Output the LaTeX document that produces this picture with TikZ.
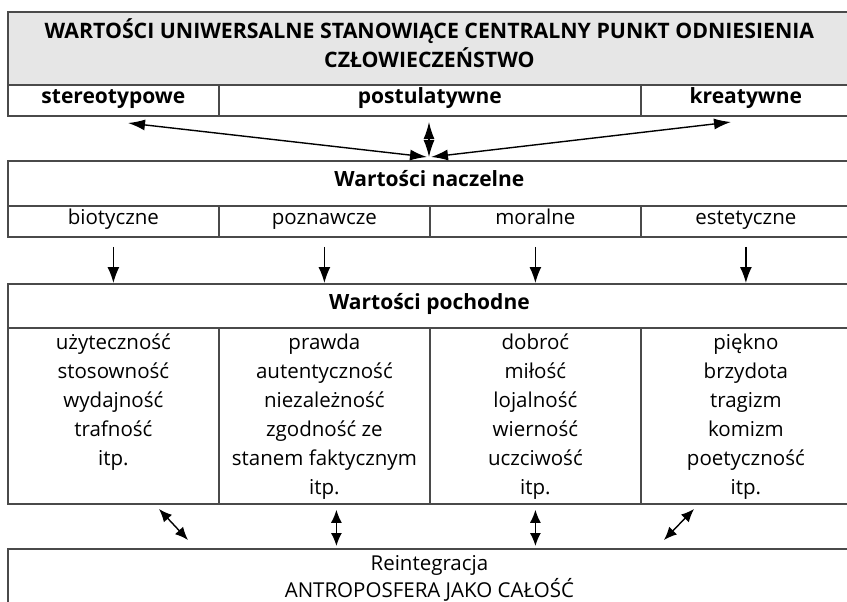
\documentclass[tikz,border=0pt]{standalone}
\usepackage{fontspec}
\setmainfont{Open Sans}
\usetikzlibrary{arrows.meta,calc}
\definecolor{rulegray}{HTML}{4A4A4A}
\definecolor{headfill}{HTML}{E6E6E6}
\begin{document}
\begin{tikzpicture}[x=1pt,y=-1pt,
  box/.style={draw=rulegray, line width=1.8pt, inner sep=0pt, anchor=north west},
  cell/.style={box, font=\fontsize{20.5}{29}\selectfont, text height=0.7em, text depth=0pt},
  boldcell/.style={cell, font=\bfseries\fontsize{21}{29}\selectfont},
  txt/.style={inner sep=0pt, align=center, font=\fontsize{20.5}{29}\selectfont},
  boldtxt/.style={txt, font=\bfseries\fontsize{21.3}{29}\selectfont},
  arr/.style={line width=1.4pt, -{Latex[length=16pt,width=12pt]}},
  darr/.style={line width=1.4pt, {Latex[length=17pt,width=11pt]}-{Latex[length=17pt,width=11pt]}},
  sdarr/.style={line width=1.4pt, {Latex[length=13pt,width=11pt]}-{Latex[length=13pt,width=11pt]}}]
\useasboundingbox (0,0) rectangle (847,602);

% universal values
\node[box, fill=headfill, minimum width=843, minimum height=73] (head) at (7,11) {};
\node[boldtxt, anchor=base] (headA) at (head.north |- 0,39)
  {WARTOŚCI UNIWERSALNE STANOWIĄCE CENTRALNY PUNKT ODNIESIENIA};
\node[boldtxt, anchor=base] (headB) at (head.north |- 0,68)
  {CZŁOWIECZEŃSTWO};
\node[boldcell, minimum width=211, minimum height=31] (stereo) at (7,84) {stereotypowe};
\node[boldcell, minimum width=422, minimum height=31] (postul) at (218,84) {postulatywne};
\node[boldcell, minimum width=210, minimum height=31] (kreat) at (640,84) {kreatywne};

% primary values
\node[boldcell, minimum width=843, minimum height=45] (nacz) at (7,160) {Wartości naczelne};
\node[cell, minimum width=211, minimum height=31] (bio) at (7,205) {biotyczne};
\node[cell, minimum width=211, minimum height=31] (pozn) at (218,205) {poznawcze};
\node[cell, minimum width=211, minimum height=31] (moral) at (429,205) {moralne};
\node[cell, minimum width=210, minimum height=31] (estet) at (640,205) {estetyczne};

% derived values
\node[boldcell, minimum width=843, minimum height=44] (poch) at (7,283) {Wartości pochodne};
\node[box, minimum width=211, minimum height=176] (c1) at (7,327) {};
\node[box, minimum width=211, minimum height=176] (c2) at (218,327) {};
\node[box, minimum width=211, minimum height=176] (c3) at (429,327) {};
\node[box, minimum width=210, minimum height=176] (c4) at (640,327) {};
\node[txt, anchor=north] (t1) at ([yshift=-7pt]c1.north)
  {użyteczność\\stosowność\\wydajność\\trafność\\itp.};
\node[txt, anchor=north] (t2) at ([yshift=-7pt]c2.north)
  {prawda\\autentyczność\\niezależność\\zgodność ze\\stanem faktycznym\\itp.};
\node[txt, anchor=north] (t3) at ([yshift=-7pt]c3.north)
  {dobroć\\miłość\\lojalność\\wierność\\uczciwość\\itp.};
\node[txt, anchor=north] (t4) at ([yshift=-7pt]c4.north)
  {piękno\\brzydota\\tragizm\\komizm\\poetyczność\\itp.};

% reintegration
\node[box, minimum width=843, minimum height=70] (reint) at (7,548) {};
\node[txt, anchor=base] (reA) at (reint.north |- 0,570) {Reintegracja};
\node[txt, anchor=base] (reB) at (reint.north |- 0,597) {ANTROPOSFERA JAKO CAŁOŚĆ};

% connectors between the three kinds and the primary values
\coordinate (hub) at (429,157);
\coordinate (hubL) at (427,157);
\coordinate (hubR) at (431,157);
\coordinate (sEnd) at (128,123);
\coordinate (kEnd) at (731,122);
\coordinate (pTop) at (429,122);
\draw[darr] (sEnd) -- (hubL);
\draw[darr] (kEnd) -- (hubR);
\draw[darr] (pTop) -- (hub);

% primary -> derived
\foreach \c in {bio,pozn,moral,estet}
  \draw[arr] ([yshift=-9pt]\c.south) -- (\c.south |- poch.north);

% derived <-> reintegration
\coordinate (a1) at (159,509); \coordinate (b1) at (188,540);
\coordinate (a4) at (694,509); \coordinate (b4) at (664,540);
\draw[sdarr] (a1) -- (b1);
\draw[sdarr] (a4) -- (b4);
\draw[sdarr] ([xshift=12pt,yshift=-5pt]c2.south) -- ([xshift=12pt,yshift=2pt]c2.south |- reint.north);
\draw[sdarr] ([yshift=-5pt]c3.south) -- ([yshift=2pt]c3.south |- reint.north);
\end{tikzpicture}
\end{document}
